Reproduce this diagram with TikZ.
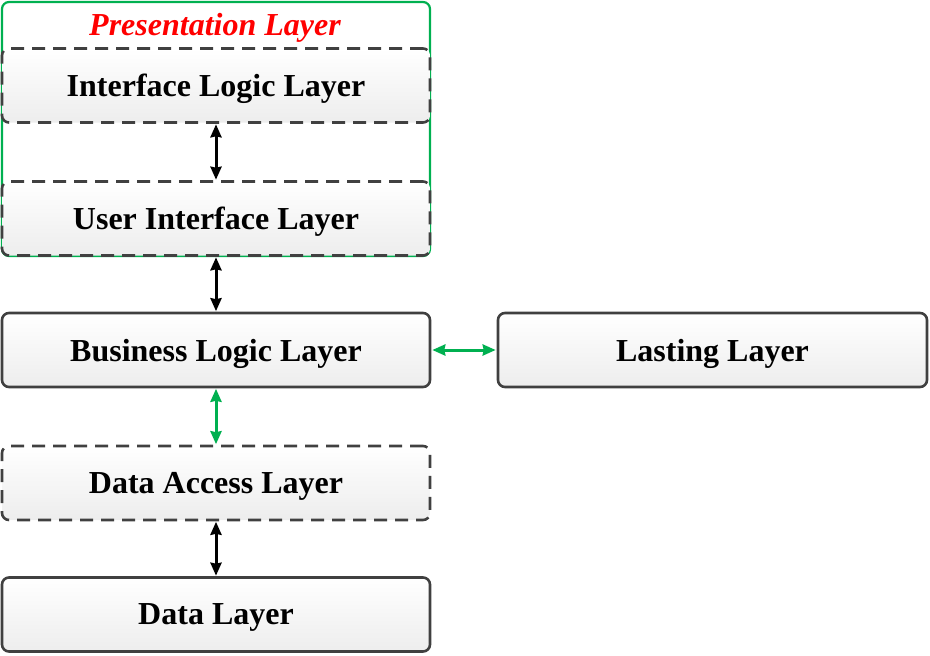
\documentclass[tikz,border=0pt]{standalone}
\usepackage{fontspec}
\setmainfont{Liberation Serif}
\usetikzlibrary{arrows.meta}
\definecolor{boxline}{HTML}{404040}
\definecolor{grn}{HTML}{00B050}
\definecolor{boxbot}{HTML}{EDEDED}
\tikzset{
  layerbox/.style={draw=boxline, line width=2.6pt, rounded corners=7pt,
    top color=white, bottom color=boxbot, minimum width=428pt, minimum height=74pt,
    inner sep=0pt, text depth=0pt, font=\fontsize{32}{36}\selectfont\bfseries},
  dashbox/.style={layerbox, dash pattern=on 13pt off 8pt},
  link/.style={line width=3pt, {Stealth[length=13pt,width=11pt,inset=1pt]}-{Stealth[length=13pt,width=11pt,inset=1pt]}},
  blink/.style={link, draw=black},
  glink/.style={link, draw=grn, fill=grn}
}
\begin{document}
\begin{tikzpicture}[x=1pt,y=-1pt]
\useasboundingbox (0,0) rectangle (930,656);
\node[draw=grn, line width=2.2pt, rounded corners=7pt, fill=white, minimum width=428pt, minimum height=254pt, inner sep=0pt] (pres) at (216,129) {};
\node[text=red, text depth=0pt, font=\fontsize{32}{36}\selectfont\bfseries\itshape] (prest) at (215,24) {Presentation Layer};
\node[dashbox] (ill) at (216,85.5) {Interface Logic Layer};
\node[dashbox] (uil) at (216,218.5) {User Interface Layer};
\node[layerbox] (bll) at (216,350) {Business Logic Layer};
\node[layerbox, minimum width=429pt] (ll) at (712.5,350) {Lasting Layer};
\node[dashbox] (dal) at (216,483) {Data Access Layer};
\node[layerbox] (dl) at (216,614.5) {Data Layer};
\draw[blink] ([yshift=-0.5pt]ill.south) -- ([yshift=0.5pt]uil.north);
\draw[blink] ([yshift=-0.5pt]uil.south) -- ([yshift=0.5pt]bll.north);
\draw[blink] ([yshift=-0.5pt]dal.south) -- ([yshift=0.5pt]dl.north);
\draw[glink] ([yshift=-0.5pt]bll.south) -- ([yshift=0.5pt]dal.north);
\draw[glink] ([xshift=1pt]bll.east) -- ([xshift=-1pt]ll.west);
\end{tikzpicture}
\end{document}
